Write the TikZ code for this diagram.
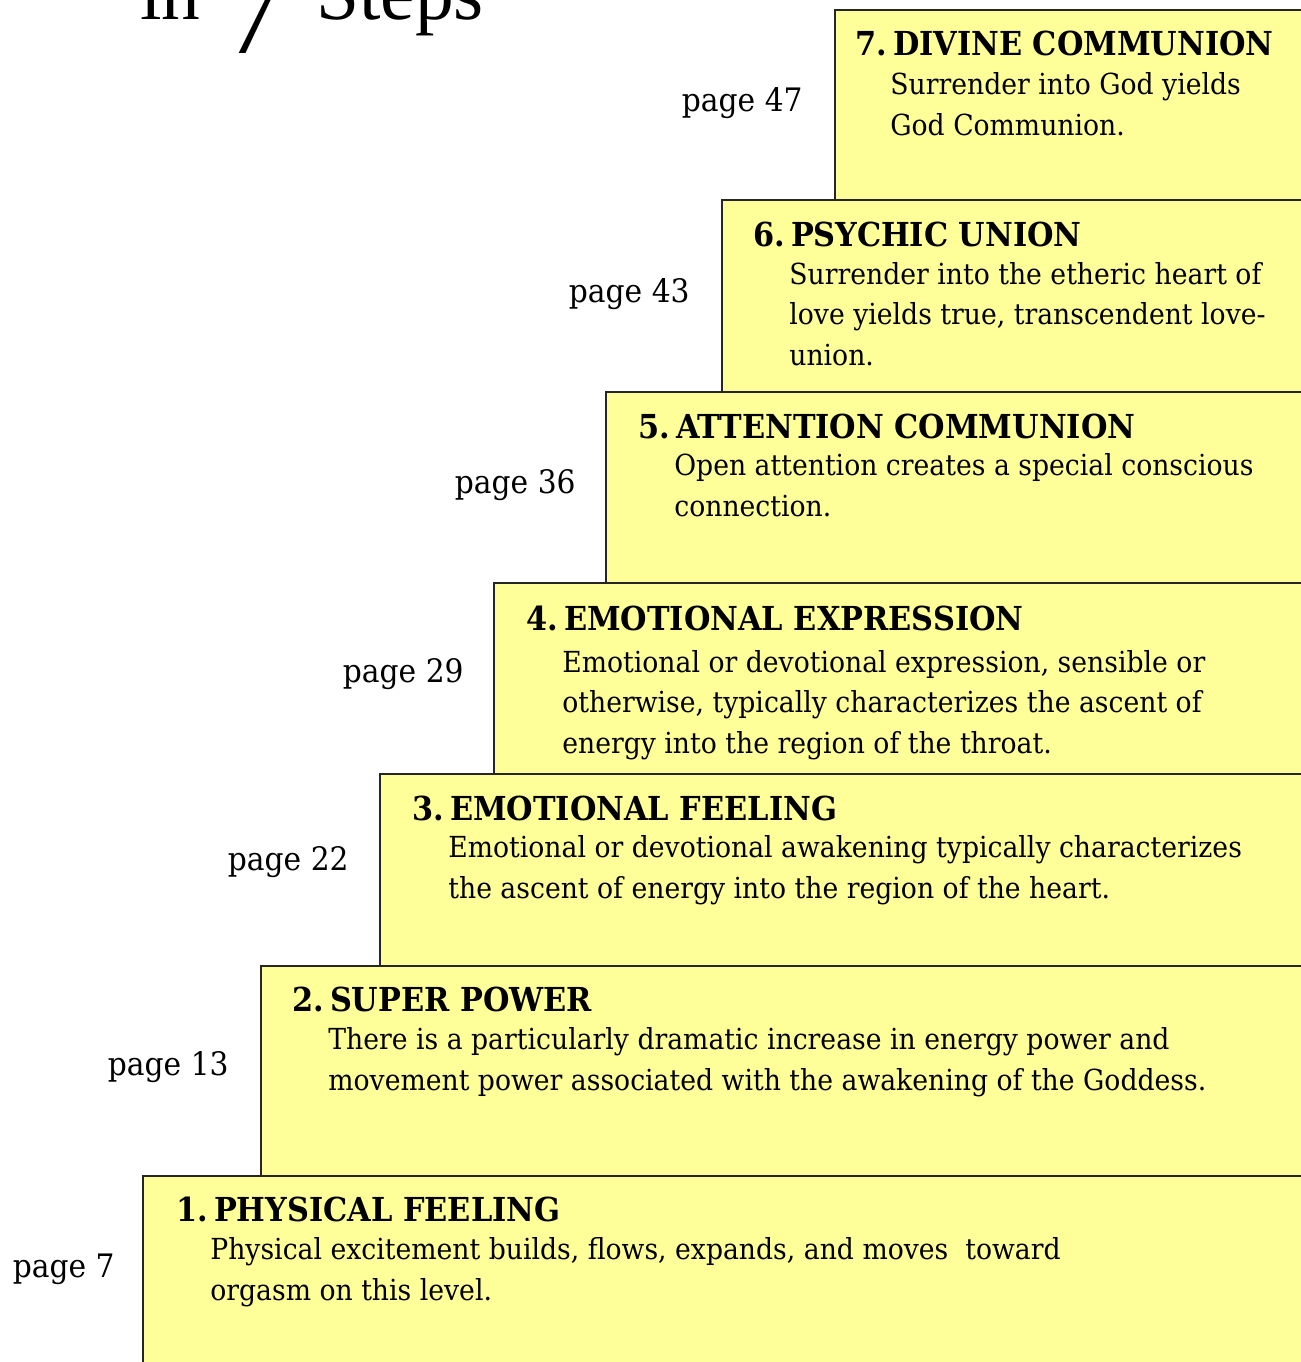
\documentclass[tikz,border=0pt]{standalone}
\usepackage{fontspec}
\setmainfont{DejaVu Serif}[FakeStretch=0.92]
\newfontfamily\headfont{Liberation Serif}
\definecolor{stepyellow}{HTML}{FFFF99}
\newcommand{\stepno}[1]{#1.\hspace{0.18em}}
\tikzset{
  stepbox/.style={draw=black!85, line width=0.8pt, fill=stepyellow},
  steptitle/.style={anchor=base west, inner sep=0pt, font=\bfseries\fontsize{18.8}{23}\selectfont},
  stepbody/.style={anchor=base west, inner sep=0pt, align=left, font=\fontsize{16.5}{22.8}\selectfont},
  pagelabel/.style={anchor=base east, inner sep=0pt, font=\fontsize{18.4}{20}\selectfont},
  headtext/.style={anchor=base west, inner sep=0pt, font=\headfont\fontsize{44}{50}\selectfont}
}

\begin{document}
\begin{tikzpicture}[x=0.02cm,y=-0.02cm]
        \useasboundingbox (0,0) rectangle (1301,1362);
        \clip (0,0) rectangle (1301,1362);
        % heading, cut off at the top
        \node[headtext] (headin) at (140,20) {in};
        \node[headtext, font=\headfont\fontsize{62}{70}\selectfont] (headseven) at (226,54) {7};
        \node[headtext] (headsteps) at (316,20) {Steps};
        % the steps, top one first
        \coordinate (s7) at (835,10);
        \coordinate (s6) at (722,200);
        \coordinate (s5) at (606,392);
        \coordinate (s4) at (494,583);
        \coordinate (s3) at (380,774);
        \coordinate (s2) at (261,966);
        \coordinate (s1) at (143,1176);
        \draw[stepbox] (s7) rectangle (1320,1400);
        \draw[stepbox] (s6) rectangle (1320,1400);
        \draw[stepbox] (s5) rectangle (1320,1400);
        \draw[stepbox] (s4) rectangle (1320,1400);
        \draw[stepbox] (s3) rectangle (1320,1400);
        \draw[stepbox] (s2) rectangle (1320,1400);
        \draw[stepbox] (s1) rectangle (1320,1400);
        % 7 (body nodes sit on their last line)
        \node[steptitle] (t7) at (855,56) {\stepno{7}DIVINE COMMUNION};
        \node[stepbody] (b7) at (890,135) {Surrender into God yields\\God Communion.};
        \node[pagelabel] (p7) at (803,112) {page 47};
        % 6
        \node[steptitle] (t6) at (753,246) {\stepno{6}PSYCHIC UNION};
        \node[stepbody] (b6) at (789,365) {Surrender into the etheric heart of\\love yields true, transcendent love-\\union.};
        \node[pagelabel] (p6) at (690,302) {page 43};
        % 5
        \node[steptitle] (t5) at (638,438) {\stepno{5}ATTENTION COMMUNION};
        \node[stepbody] (b5) at (674,516) {Open attention creates a special conscious\\connection.};
        \node[pagelabel] (p5) at (576,493) {page 36};
        % 4
        \node[steptitle] (t4) at (526,630) {\stepno{4}EMOTIONAL EXPRESSION};
        \node[stepbody] (b4) at (562,753) {Emotional or devotional expression, sensible or\\otherwise, typically characterizes the ascent of\\energy into the region of the throat.};
        \node[pagelabel] (p4) at (464,682) {page 29};
        % 3
        \node[steptitle] (t3) at (412,820) {\stepno{3}EMOTIONAL FEELING};
        \node[stepbody] (b3) at (448,898) {Emotional or devotional awakening typically characterizes\\the ascent of energy into the region of the heart.};
        \node[pagelabel] (p3) at (349,870) {page 22};
        % 2
        \node[steptitle] (t2) at (292,1011) {\stepno{2}SUPER POWER};
        \node[stepbody] (b2) at (328,1090) {There is a particularly dramatic increase in energy power and\\movement power associated with the awakening of the Goddess.};
        \node[pagelabel] (p2) at (229,1075) {page 13};
        % 1
        \node[steptitle] (t1) at (176,1221) {\stepno{1}PHYSICAL FEELING};
        \node[stepbody] (b1) at (210,1300) {Physical excitement builds, flows, expands, and moves\ \ toward\\orgasm on this level.};
        \node[pagelabel] (p1) at (115,1277) {page 7};
\end{tikzpicture}
\end{document}
